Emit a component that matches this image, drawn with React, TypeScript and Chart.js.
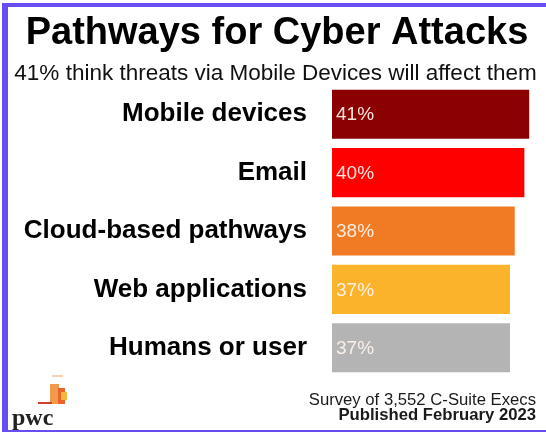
import React, { useEffect, useRef } from "react";
import { Chart, registerables } from "chart.js";

Chart.register(...registerables);

const categories: string[] = [
  "Mobile devices",
  "Email",
  "Cloud-based pathways",
  "Web applications",
  "Humans or user",
];
const values: number[] = [41, 40, 38, 37, 37];
const barColors: string[] = ["#8b0000", "#ff0000", "#f07b24", "#fbb32b", "#b4b4b4"];
const titleText = "Pathways for Cyber Attacks";
const subtitleText = "41% think threats via Mobile Devices will affect them";
const footerLine1 = "Survey of 3,552 C-Suite Execs";
const footerLine2 = "Published February 2023";
const logoText = "pwc";

const SANS = '"Liberation Sans", Arial, Helvetica, sans-serif';
const SERIF = '"Liberation Serif", "DejaVu Serif", serif';

const decorPlugin = {
  id: "decor",
  beforeDraw(chart: any) {
    const ctx = chart.ctx;
    ctx.save();
    ctx.fillStyle = "#ffffff";
    ctx.fillRect(0, 0, chart.width, chart.height);
    // purple frame
    ctx.fillStyle = "#6a4df2";
    ctx.fillRect(2, 3, 6, 429);
    ctx.fillRect(2, 3, 544, 4);
    ctx.fillRect(2, 430, 544, 2);
    ctx.restore();
  },
  afterDraw(chart: any) {
    const ctx = chart.ctx;
    ctx.save();
    ctx.fillStyle = "#000000";
    ctx.textAlign = "center";
    ctx.textBaseline = "alphabetic";
    ctx.font = `bold 38px ${SANS}`;
    ctx.fillText(titleText, 277, 44);
    ctx.fillStyle = "#111111";
    ctx.font = `22.5px ${SANS}`;
    ctx.fillText(subtitleText, 275.5, 80);

    ctx.textAlign = "right";
    ctx.fillStyle = "#1a1a1a";
    ctx.font = `16.7px ${SANS}`;
    ctx.fillText(footerLine1, 536, 405);
    ctx.font = `bold 16.7px ${SANS}`;
    ctx.fillText(footerLine2, 536, 420);

    // logo
    ctx.fillStyle = "#f3d2b8";
    ctx.fillRect(52, 375, 11, 2);
    ctx.fillStyle = "#f29a4a";
    ctx.fillRect(50, 384, 9, 20);
    ctx.fillStyle = "#e8642c";
    ctx.fillRect(58, 388, 7, 16);
    ctx.fillStyle = "#f5b640";
    ctx.fillRect(61, 392, 6, 8);
    ctx.fillStyle = "#d6402a";
    ctx.fillRect(38, 402, 14, 2);
    ctx.fillStyle = "#222222";
    ctx.textAlign = "left";
    ctx.font = `bold 24px ${SERIF}`;
    ctx.fillText(logoText, 12, 425);
    ctx.restore();
  },
  afterDatasetsDraw(chart: any) {
    const ctx = chart.ctx;
    const meta = chart.getDatasetMeta(0);
    ctx.save();
    ctx.fillStyle = "rgba(255,245,240,0.92)";
    ctx.font = `19px ${SANS}`;
    ctx.textAlign = "left";
    ctx.textBaseline = "middle";
    meta.data.forEach((bar: any, i: number) => {
      ctx.fillText(`${values[i]}%`, bar.base + 4, bar.y + 1);
    });
    ctx.restore();
  },
};

export default function App() {
  const ref = useRef<HTMLCanvasElement>(null);
  useEffect(() => {
    document.body.style.margin = "0";
    const chart = new Chart(ref.current as HTMLCanvasElement, {
      type: "bar",
      data: {
        labels: categories,
        datasets: [
          {
            data: values,
            backgroundColor: barColors,
            borderWidth: 0,
            categoryPercentage: 1,
            barPercentage: 0.84,
          },
        ],
      },
      options: {
        indexAxis: "y",
        responsive: false,
        animation: false,
        layout: { padding: { top: 85, bottom: 55, left: 0, right: 12 } },
        plugins: {
          legend: { display: false },
          tooltip: { enabled: false },
          title: { display: false },
        },
        scales: {
          x: { display: false, min: 0, max: 42 },
          y: {
            afterFit(scale: any) {
              scale.width = 332;
            },
            grid: { display: false, drawTicks: false },
            border: { display: false },
            ticks: {
              padding: 25,
              color: "#000000",
              font: { family: SANS, size: 26, weight: "bold" },
            },
          },
        },
      },
      plugins: [decorPlugin],
    } as any);
    return () => chart.destroy();
  }, []);
  return (
    <canvas
      ref={ref}
      width={546}
      height={432}
      style={{ display: "block", width: 546, height: 432 }}
    />
  );
}
